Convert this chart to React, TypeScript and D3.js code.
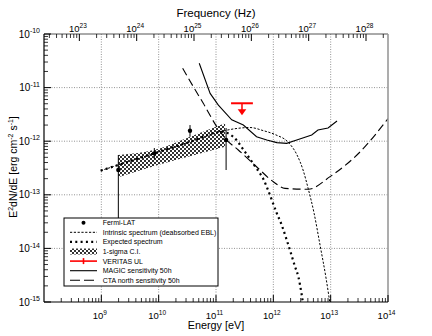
import React from 'react';
import * as d3 from 'd3';

// ---------- data ----------
const energyTicks = [1e9, 1e10, 1e11, 1e12, 1e13, 1e14];
const fluxTicks = [1e-15, 1e-14, 1e-13, 1e-12, 1e-11, 1e-10];
const freqTicks = [1e23, 1e24, 1e25, 1e26, 1e27, 1e28];
const energyGrid = [1e9, 1e10, 1e11, 1e12, 1e13];
const fluxGrid = [1e-14, 1e-13, 1e-12, 1e-11];

const fermiE = [1.98e9, 8.4e9, 3.52e10, 1.5e11];
const fermiF = [2.9e-13, 5.94e-13, 1.57e-12, 1.05e-12];
const fermiHi = [5.53e-13, 7.46e-13, 2.0e-12, 1.76e-12];
const fermiLo = [1.5e-14, 4.66e-13, 1.21e-12, 2.9e-13];

const bandE = [1.98e9, 9.73e9, 3.52e10, 1.44e11];
const bandHi = [5.53e-13, 7.14e-13, 1.21e-12, 2.16e-12];
const bandLo = [2.12e-13, 3.6e-13, 5.22e-13, 7.88e-13];

const intrinsicE = [9.75e8, 3.52e10, 1.44e11, 2.32e11, 3.92e11, 6.6e11, 1.11e12, 1.8e12, 2.59e12, 3.3e12, 4.03e12, 5.13e12, 6.52e12, 8.3e12, 1.01e13];
const intrinsicF = [2.82e-13, 9.73e-13, 1.58e-12, 1.73e-12, 1.8e-12, 1.58e-12, 1.31e-12, 9.66e-13, 5.53e-13, 2.9e-13, 1.34e-13, 4.57e-14, 1.16e-14, 2.8e-15, 7.1e-16];

const expectedE = [9.75e8, 3.52e10, 1.26e11, 2.0e11, 3.21e11, 4.25e11, 5.47e11, 6.69e11, 8.07e11, 1.15e12, 1.4e12, 1.71e12, 1.95e12, 2.39e12, 2.73e12, 3.13e12, 3.43e12];
const expectedF = [2.82e-13, 9.73e-13, 1.5e-12, 1.21e-12, 6.3e-13, 4.1e-13, 2.78e-13, 1.97e-13, 1.23e-13, 4.52e-14, 2.73e-14, 1.44e-14, 9.3e-15, 4.56e-15, 2.97e-15, 1.35e-15, 7.1e-16];

const magicE = [5.1e10, 7.9e10, 1.1e11, 1.88e11, 3.0e11, 5.1e11, 7.7e11, 1.15e12, 1.71e12, 2.56e12, 4.67e12, 6.0e12, 9.0e12, 1.29e13];
const magicF = [2.84e-11, 7.8e-12, 4.7e-12, 2.5e-12, 2.0e-12, 1.21e-12, 1.05e-12, 9.4e-13, 9.1e-13, 1.05e-12, 1.31e-12, 1.62e-12, 1.76e-12, 2.38e-12];

const ctaE = [2.62e10, 4.02e10, 6.0e10, 1.03e11, 1.54e11, 2.45e11, 5.1e11, 1.0e12, 1.6e12, 4.07e12, 9.75e12, 3.25e13, 1.0e14];
const ctaF = [2.29e-11, 1.04e-11, 5.1e-12, 1.87e-12, 1.05e-12, 6.86e-13, 3.34e-13, 1.75e-13, 1.32e-13, 1.27e-13, 2.18e-13, 6.3e-13, 2.63e-12];

const veritasE = 2.84e11;
const veritasELo = 1.83e11;
const veritasEHi = 4.4e11;
const veritasF = 5.1e-12;

const legendLabels = [
  'Fermi-LAT',
  'Intrinsic spectrum (deabsorbed EBL)',
  'Expected spectrum',
  '1-sigma C.I.',
  'VERITAS UL',
  'MAGIC sensitivity 50h',
  'CTA north sensitivity 50h',
];

const HZ_PER_EV = 2.418e14;

// ---------- layout ----------
const W = 432, H = 336;
const L = 44, R = 388, T = 34, B = 302;
const FONT = '"Liberation Sans", Arial, Helvetica, sans-serif';

const x = d3.scaleLog().domain([1e8, 1e14]).range([L, R]);
const y = d3.scaleLog().domain([1e-15, 1e-10]).range([B, T]);
const xf = d3.scaleLog().domain([1e8 * HZ_PER_EV, 1e14 * HZ_PER_EV]).range([L, R]);

function minorTicks(lo: number, hi: number, dom: [number, number]) {
  const out: number[] = [];
  for (let d = lo; d <= hi; d++) {
    for (let k = 2; k <= 9; k++) {
      const v = k * Math.pow(10, d);
      if (v > dom[0] && v < dom[1]) out.push(v);
    }
  }
  return out;
}

const zip = (a: number[], b: number[]) => a.map((v, i) => [v, b[i]] as [number, number]);

const lineGen = (curve: d3.CurveFactory) =>
  d3.line<[number, number]>().x(d => x(d[0])).y(d => y(d[1])).curve(curve);

function Exp({ base, exp, supSize, dy }: { base: string; exp: number; supSize: number; dy: number }) {
  return (
    <>
      {base}
      <tspan dy={-dy} fontSize={supSize}>{String(exp)}</tspan>
    </>
  );
}

export default function App() {
  const majorLen = 7, minorLen = 4;
  const eMinor = minorTicks(8, 13, [1e8, 1e14]);
  const fMinor = minorTicks(-15, -11, [1e-15, 1e-10]);
  const nuMinor = minorTicks(22, 28, [1e8 * HZ_PER_EV, 1e14 * HZ_PER_EV]);

  const intrinsicPath = lineGen(d3.curveMonotoneX)(zip(intrinsicE, intrinsicF)) || '';
  const expectedPath = lineGen(d3.curveMonotoneX)(zip(expectedE, expectedF)) || '';
  const magicPath = lineGen(d3.curveLinear)(zip(magicE, magicF)) || '';
  const ctaPath = lineGen(d3.curveMonotoneX)(zip(ctaE, ctaF)) || '';
  const bandArea = d3
    .area<number>()
    .x((_, i) => x(bandE[i]))
    .y0((_, i) => y(bandLo[i]))
    .y1((_, i) => y(bandHi[i]))
    .curve(d3.curveMonotoneX)(bandE) || '';

  const vx = x(veritasE), vy = y(veritasF);

  const legX = 64, legY = 218, legW = 154, legH = 68;
  const rowY = (i: number) => 222.7 + i * 9.6;
  const sx0 = 70, sx1 = 97, tx = 102.7;

  return (
    <svg width={W} height={H} style={{ position: 'absolute', left: 0, top: 0, background: '#fff' }} fontFamily={FONT}>
      <defs>
        <clipPath id="plotClip">
          <rect x={L} y={T} width={R - L} height={B - T} />
        </clipPath>
        <pattern id="checker" width={4} height={4} patternUnits="userSpaceOnUse">
          <rect x={0} y={0} width={4} height={4} fill="#fff" />
          <rect x={0} y={0} width={2} height={2} fill="#333" />
          <rect x={2} y={2} width={2} height={2} fill="#333" />
        </pattern>
      </defs>
      <rect x={0} y={0} width={W} height={H} fill="#fff" />

      {/* grid */}
      {energyGrid.map(v => (
        <line key={'gx' + v} x1={x(v)} x2={x(v)} y1={T} y2={B} stroke="#777" strokeWidth={0.8} strokeDasharray="1,1.5" />
      ))}
      {fluxGrid.map(v => (
        <line key={'gy' + v} x1={L} x2={R} y1={y(v)} y2={y(v)} stroke="#777" strokeWidth={0.8} strokeDasharray="1,1.5" />
      ))}

      <g clipPath="url(#plotClip)">
        {/* band */}
        <path d={bandArea} fill="url(#checker)" stroke="none" />
        {/* intrinsic */}
        <path d={intrinsicPath} fill="none" stroke="#000" strokeWidth={1} strokeDasharray="2.2,1.6" />
        {/* expected */}
        <path d={expectedPath} fill="none" stroke="#000" strokeWidth={2.2} strokeDasharray="2,3.3" />
        {/* MAGIC */}
        <path d={magicPath} fill="none" stroke="#000" strokeWidth={1.1} />
        {/* CTA */}
        <path d={ctaPath} fill="none" stroke="#000" strokeWidth={1.1} strokeDasharray="8,4" />
        {/* Fermi points */}
        {fermiE.map((e, i) => (
          <g key={'fp' + i}>
            <line x1={x(e)} x2={x(e)} y1={y(fermiHi[i])} y2={y(fermiLo[i])} stroke="#000" strokeWidth={1} />
            <circle cx={x(e)} cy={y(fermiF[i])} r={2.2} fill="#000" />
          </g>
        ))}
        {/* VERITAS UL */}
        <g stroke="#f00" fill="#f00">
          <line x1={x(veritasELo)} x2={x(veritasEHi)} y1={vy} y2={vy} strokeWidth={2} />
          <line x1={vx} x2={vx} y1={vy} y2={vy + 7} strokeWidth={1.5} />
          <path d={`M${vx - 4.3},${vy + 6} L${vx + 4.3},${vy + 6} L${vx},${vy + 12} Z`} stroke="none" />
        </g>
      </g>

      {/* axes frame */}
      <line x1={L} x2={R} y1={T} y2={T} stroke="#555" strokeWidth={1} />
      <line x1={R} x2={R} y1={T} y2={B} stroke="#999" strokeWidth={1.6} />
      <line x1={L} x2={L} y1={T} y2={B} stroke="#000" strokeWidth={1.2} />
      <line x1={L} x2={R} y1={B} y2={B} stroke="#000" strokeWidth={1.2} />

      {/* bottom ticks */}
      {energyTicks.map(v => (
        <line key={'bt' + v} x1={x(v)} x2={x(v)} y1={B} y2={B - majorLen} stroke="#000" strokeWidth={1} />
      ))}
      {eMinor.map(v => (
        <line key={'bm' + v} x1={x(v)} x2={x(v)} y1={B} y2={B - minorLen} stroke="#000" strokeWidth={0.8} />
      ))}
      {/* left ticks */}
      {fluxTicks.map(v => (
        <line key={'lt' + v} x1={L} x2={L + majorLen} y1={y(v)} y2={y(v)} stroke="#000" strokeWidth={1} />
      ))}
      {fMinor.map(v => (
        <line key={'lm' + v} x1={L} x2={L + minorLen} y1={y(v)} y2={y(v)} stroke="#000" strokeWidth={0.8} />
      ))}
      {/* top ticks (frequency) */}
      {freqTicks.map(v => (
        <line key={'tt' + v} x1={xf(v)} x2={xf(v)} y1={T} y2={T + majorLen} stroke="#000" strokeWidth={1} />
      ))}
      {nuMinor.map(v => (
        <line key={'tm' + v} x1={xf(v)} x2={xf(v)} y1={T} y2={T + minorLen} stroke="#000" strokeWidth={0.8} />
      ))}

      {/* tick labels */}
      {energyTicks.map(v => (
        <text key={'bl' + v} x={x(v) - 1.5} y={318.5} textAnchor="middle" fontSize={9.5} fill="#000">
          <Exp base="10" exp={Math.round(Math.log10(v))} supSize={6.5} dy={4} />
        </text>
      ))}
      {freqTicks.map(v => (
        <text key={'tl' + v} x={xf(v) - 1.5} y={31.5} textAnchor="middle" fontSize={9.5} fill="#000">
          <Exp base="10" exp={Math.round(Math.log10(v))} supSize={6.5} dy={4} />
        </text>
      ))}
      {fluxTicks.map(v => (
        <text key={'ll' + v} x={40} y={y(v) + 3.5} textAnchor="end" fontSize={10} fill="#000">
          <Exp base="10" exp={Math.round(Math.log10(v))} supSize={7} dy={4.3} />
        </text>
      ))}

      {/* titles */}
      <text x={216} y={16.5} textAnchor="middle" fontSize={11.5} fill="#000">Frequency (Hz)</text>
      <text x={216} y={329} textAnchor="middle" fontSize={10.8} fill="#000">Energy [eV]</text>
      <text transform={`translate(16.5,167) rotate(-90)`} textAnchor="middle" fontSize={10.5} fill="#000">
        E<tspan dy={-4} fontSize={7}>2</tspan>
        <tspan dy={4}>dN/dE  [erg cm</tspan>
        <tspan dy={-4} fontSize={7}>-2</tspan>
        <tspan dy={4}> s</tspan>
        <tspan dy={-4} fontSize={7}>-1</tspan>
        <tspan dy={4}>]</tspan>
      </text>

      {/* legend */}
      <rect x={legX} y={legY} width={legW} height={legH} fill="#fff" stroke="#000" strokeWidth={1} />
      {legendLabels.map((lab, i) => (
        <text key={'lg' + i} x={tx} y={rowY(i) + 2.5} fontSize={7} fill="#000">{lab}</text>
      ))}
      <circle cx={(sx0 + sx1) / 2} cy={rowY(0)} r={2} fill="#000" />
      <line x1={sx0} x2={sx1} y1={rowY(1)} y2={rowY(1)} stroke="#000" strokeWidth={1} strokeDasharray="2.2,1.6" />
      <line x1={sx0} x2={sx1} y1={rowY(2)} y2={rowY(2)} stroke="#000" strokeWidth={2.2} strokeDasharray="2,3.3" />
      <rect x={sx0} y={rowY(3) - 3} width={sx1 - sx0} height={6} fill="url(#checker)" />
      <line x1={sx0} x2={sx1} y1={rowY(4)} y2={rowY(4)} stroke="#f00" strokeWidth={1.6} />
      <line x1={(sx0 + sx1) / 2} x2={(sx0 + sx1) / 2} y1={rowY(4) - 3} y2={rowY(4) + 3} stroke="#f00" strokeWidth={1.6} />
      <line x1={sx0} x2={sx1} y1={rowY(5)} y2={rowY(5)} stroke="#000" strokeWidth={1.1} />
      <line x1={sx0} x2={sx1} y1={rowY(6)} y2={rowY(6)} stroke="#000" strokeWidth={1.1} strokeDasharray="10,4" />
    </svg>
  );
}
